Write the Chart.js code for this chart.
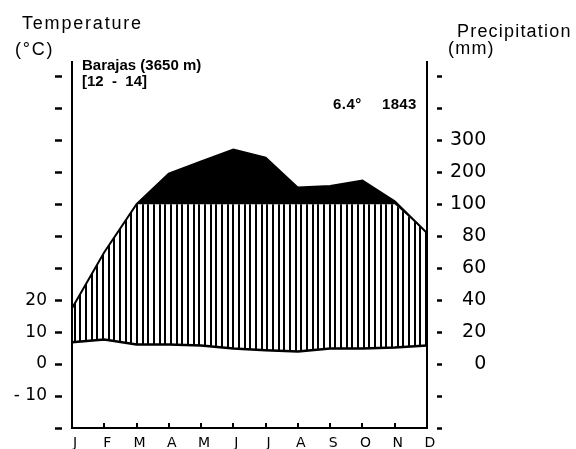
<!DOCTYPE html>
<html>
<head>
<meta charset="utf-8">
<script src="https://cdn.jsdelivr.net/npm/chart.js@4.4.0/dist/chart.umd.min.js"></script>
<style>
    html, body { margin: 0; padding: 0; background: #fff; }
</style>
</head>
<body>
<canvas id="ChClima" width="576" height="449"></canvas>
<script>
const Meses = ['J', 'F', 'M', 'A', 'M', 'J', 'J', 'A', 'S', 'O', 'N', 'D'];
const Temperatura = [6.8, 7.7, 6.1, 6.1, 5.8, 4.9, 4.3, 3.9, 4.9, 4.9, 5.2, 5.8];
const Precipitacion = [35, 70, 100, 196, 234, 271, 246, 152, 157, 174, 109, 82];
const TicksTemp = [-20, -10, 0, 10, 20, 30, 40, 50, 60, 70, 80, 90];
const LabelsTemp = ['', '- 10', '0', '10', '20', '', '', '', '', '', '', ''];
const LabelsPrec = ['', '', '0', '20', '40', '60', '80', '100', '200', '300', '', ''];
const Estacion = 'Barajas (3650 m)';
const Periodo = '[12  -  14]';
const MediaAnual = '6.4°';
const TotalAnual = '1843';

// escala Walter-Lieth: 20 mm = 10 °C, por encima de 100 mm se comprime x10
const Equivalente = (mm) => mm <= 100 ? mm / 2 : 50 + (mm - 100) / 10;

const ctx = document.getElementById('ChClima').getContext('2d');

const CrearTrama = () => {
    const c = document.createElement('canvas');
    c.width = 17;
    c.height = 4;
    const cx = c.getContext('2d');
    cx.fillStyle = '#000';
    [0, 6, 11].forEach((x) => cx.fillRect(x, 0, 2, 4));
    return ctx.createPattern(c, 'repeat');
};

const Rotulos = {
    id: 'rotulos',
    afterDraw(chart) {
        const c = chart.ctx;
        const area = chart.chartArea;
        c.save();
        c.fillStyle = '#000';
        c.textBaseline = 'alphabetic';
        c.textAlign = 'left';
        const texto = (t, x, y, font, esp) => {
            c.font = font;
            c.letterSpacing = esp;
            c.fillText(t, x, y);
        };
        texto('Temperature', 22, 29, '18px "Liberation Sans"', '1.8px');
        texto('(°C)', 15, 55, '18px "Liberation Sans"', '1.8px');
        texto('Precipitation', 457, 37, '18px "Liberation Sans"', '1.2px');
        texto('(mm)', 448, 54, '18px "Liberation Sans"', '1.2px');
        texto(Estacion, 82, 70, 'bold 15px "Liberation Sans"', '0px');
        texto(Periodo, 82, 86, 'bold 15px "Liberation Sans"', '0px');
        texto(MediaAnual, 333, 109, 'bold 15px "Liberation Sans"', '0.5px');
        texto(TotalAnual, 382, 109, 'bold 15px "Liberation Sans"', '0.3px');

        // marcas de meses hacia dentro
        const xs = chart.scales.x;
        c.strokeStyle = '#000';
        c.lineWidth = 2;
        xs.ticks.forEach((t, i) => {
            const px = Math.round(xs.getPixelForTick(i));
            c.beginPath();
            c.moveTo(px, area.bottom);
            c.lineTo(px, area.bottom - 5);
            c.stroke();
        });
        c.restore();
    }
};

Chart.defaults.font.family = '"DejaVu Sans"';
Chart.defaults.color = '#000';

const ChClima = new Chart(ctx, {
    type: 'line',
    data: {
        labels: Meses,
        datasets: [
            {
                label: 'Temperatura',
                data: Temperatura,
                borderColor: '#000',
                borderWidth: 2.5,
                pointRadius: 0,
                fill: false
            },
            {
                label: 'Precipitacion hasta 100',
                data: Precipitacion.map((mm) => Equivalente(Math.min(mm, 100))),
                borderColor: 'transparent',
                pointRadius: 0,
                backgroundColor: CrearTrama(),
                fill: 0
            },
            {
                label: 'Precipitacion',
                data: Precipitacion.map(Equivalente),
                borderColor: '#000',
                borderWidth: 2,
                pointRadius: 0,
                backgroundColor: '#000',
                fill: 1
            }
        ]
    },
    options: {
        responsive: false,
        animation: false,
        layout: { padding: { top: 62, left: 0, right: 0, bottom: 0 } },
        plugins: {
            legend: { display: false },
            tooltip: { enabled: false }
        },
        scales: {
            x: {
                type: 'category',
                offset: false,
                grid: { display: true, drawOnChartArea: false, drawTicks: false },
                border: { display: true, color: '#000', width: 2 },
                ticks: {
                    font: { size: 14 },
                    padding: 7,
                    labelOffset: 3,
                    maxRotation: 0,
                    autoSkip: false
                },
                afterFit: (s) => { s.height = 21; }
            },
            y: {
                position: 'left',
                min: -20,
                max: 94.5,
                afterBuildTicks: (s) => { s.ticks = TicksTemp.map((v) => ({ value: v })); },
                ticks: {
                    callback: (v) => LabelsTemp[TicksTemp.indexOf(v)],
                    font: { size: 17 },
                    padding: 8
                },
                grid: {
                    drawOnChartArea: false,
                    drawTicks: true,
                    tickLength: 17,
                    tickWidth: 2.5,
                    tickColor: '#000',
                    tickBorderDash: [7, 100]
                },
                border: { display: true, color: '#000', width: 2 },
                afterFit: (s) => { s.width = 72; }
            },
            y2: {
                position: 'right',
                min: -20,
                max: 94.5,
                afterBuildTicks: (s) => { s.ticks = TicksTemp.map((v) => ({ value: v })); },
                ticks: {
                    // espacios de cifra para alinear a la derecha
                    callback: (v) => LabelsPrec[TicksTemp.indexOf(v)].padStart(3, '\u2007'),
                    font: { size: 19 },
                    padding: 8,
                    crossAlign: 'near'
                },
                grid: {
                    drawOnChartArea: false,
                    drawTicks: true,
                    tickLength: 15,
                    tickWidth: 2.5,
                    tickColor: '#000',
                    tickBorderDash: [0, 9, 6, 100]
                },
                border: { display: true, color: '#000', width: 2 },
                afterFit: (s) => { s.width = 149; }
            }
        }
    },
    plugins: [Rotulos]
});
</script>
</body>
</html>
